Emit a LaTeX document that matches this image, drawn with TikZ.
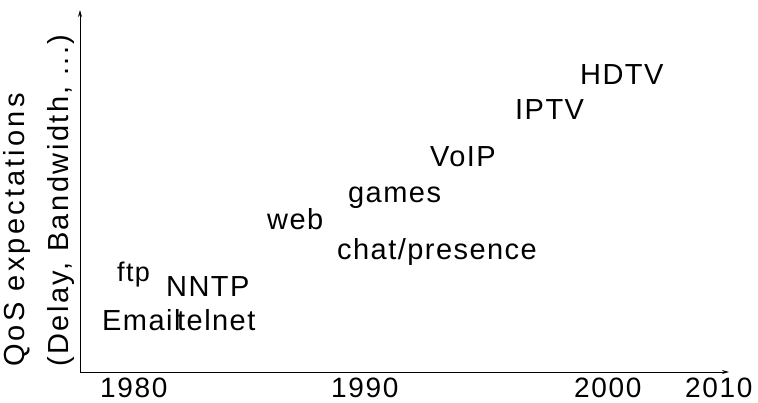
\documentclass[tikz,border=0pt]{standalone}
\usepackage{fontspec}
\setmainfont{Liberation Sans}
\newfontfamily\apfont[LetterSpace=5]{Liberation Sans}
\newfontfamily\yrfont[LetterSpace=6]{Liberation Sans}
\newfontfamily\axfontA[LetterSpace=11]{Liberation Sans}
\newfontfamily\axfontB[LetterSpace=8.5]{Liberation Sans}
\usetikzlibrary{arrows.meta}
\tikzset{
  app/.style={anchor=base west, inner sep=0pt, font=\apfont\fontsize{29}{34}\selectfont},
  small app/.style={app, font=\apfont\fontsize{27}{32}\selectfont},
  year/.style={anchor=base west, inner sep=0pt, font=\yrfont\fontsize{28}{33}\selectfont},
  axlabel/.style={anchor=base west, inner sep=0pt, rotate=90},
  axis/.style={line width=1pt, -{Stealth[length=7pt,width=4pt]}}
}
\begin{document}
\begin{tikzpicture}[x=1pt,y=1pt]
\useasboundingbox (0,0) rectangle (758,402);

% axes
\coordinate (o) at (80,30);
\coordinate (ytop) at (80,392);
\coordinate (xend) at (729,30);
\draw[axis] (o) -- (ytop);
\draw[axis] (o) -- (xend);

% axis labels
\node[axlabel, font=\axfontA\fontsize{29}{34}\selectfont] (ylab1) at (24,35) {QoS expectations};
\node[axlabel, font=\axfontB\fontsize{29}{34}\selectfont] (ylab2) at (68,35) {(Delay, Bandwidth, ...)};

% years
\node[year] (y1980) at (100,5) {1980};
\node[year] (y1990) at (331,5) {1990};
\node[year] (y2000) at (574,5) {2000};
\node[year] (y2010) at (685,5) {2010};

% applications
\node[small app] (ftp) at (117,120) {ftp};
\node[app] (nntp) at (166,105) {NNTP};
\node[app] (email) at (102,72) {Email};
\node[app] (telnet) at (177,72) {telnet};
\node[app] (web) at (267,172) {web};
\node[app] (chat) at (337,142) {chat/presence};
\node[app] (games) at (348,199) {games};
\node[app] (voip) at (430,235) {VoIP};
\node[app] (iptv) at (515,282) {IPTV};
\node[app] (hdtv) at (580,317) {HDTV};
\end{tikzpicture}
\end{document}
